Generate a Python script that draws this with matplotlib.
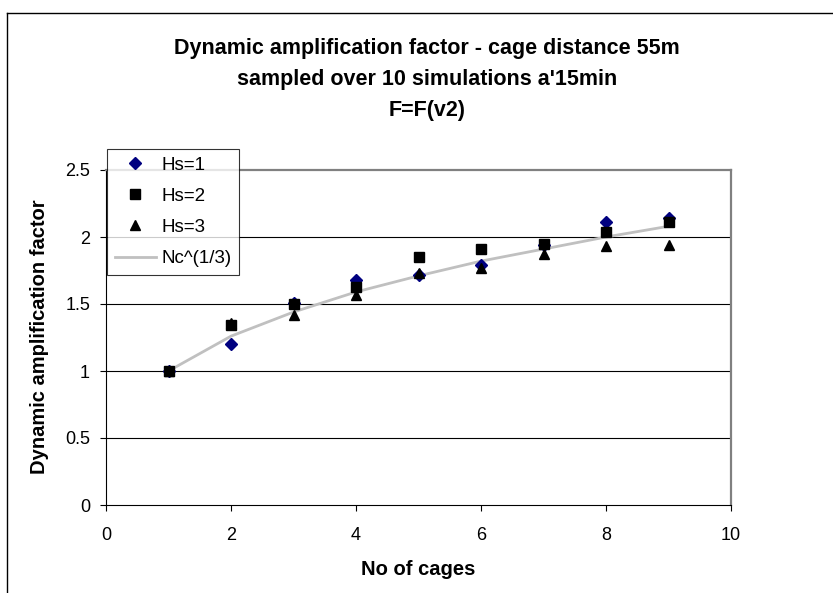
import matplotlib
matplotlib.use("Agg")
import matplotlib.pyplot as plt
from matplotlib.lines import Line2D

plt.rcParams["font.family"] = ["Liberation Sans", "DejaVu Sans"]

# number of cages
cages = [1, 2, 3, 4, 5, 6, 7, 8, 9]

# dynamic amplification factor per wave height
hs1 = [1.00, 1.20, 1.51, 1.68, 1.72, 1.79, 1.94, 2.11, 2.14]
hs2 = [1.00, 1.34, 1.50, 1.63, 1.85, 1.91, 1.95, 2.04, 2.11]
hs3 = [1.00, 1.36, 1.42, 1.57, 1.73, 1.77, 1.87, 1.93, 1.94]

# reference curve Nc^(1/3)
nc_curve = [1.00, 1.26, 1.44, 1.59, 1.71, 1.82, 1.91, 2.00, 2.08]

title_lines = [
    "Dynamic amplification factor - cage distance 55m",
    "sampled over 10 simulations a'15min",
    "F=F(v2)",
]

W, H = 833, 593
fig = plt.figure(figsize=(W / 100, H / 100), dpi=100)

# axes box in pixels: left 106, right 731, top 170, bottom 505
ax = fig.add_axes([106 / W, 1 - 505 / H, (731 - 106) / W, (505 - 170) / H])

# outer chart frame (only top and left visible in the crop)
fig.add_artist(Line2D([7 / W, 1], [1 - 12.5 / H, 1 - 12.5 / H], color="black", lw=1.0))
fig.add_artist(Line2D([7 / W, 7 / W], [0, 1 - 12.5 / H], color="black", lw=1.0))

line, = ax.plot(cages, nc_curve, color="#c0c0c0", lw=2.0, zorder=2, label="Nc^(1/3)")
p1, = ax.plot(cages, hs1, "D", color="#000080", ms=6.0, ls="none", zorder=3, label="Hs=1")
p2, = ax.plot(cages, hs2, "s", color="black", ms=6.5, ls="none", zorder=4, label="Hs=2")
p3, = ax.plot(cages, hs3, "^", color="black", ms=7.5, ls="none", zorder=5, label="Hs=3")

ax.set_xlim(0, 10)
ax.set_ylim(0, 2.5)
ax.set_xticks([0, 2, 4, 6, 8, 10])
ax.set_yticks([0, 0.5, 1, 1.5, 2, 2.5])
ax.set_yticklabels(["0", "0.5", "1", "1.5", "2", "2.5"])

for yv in [0.5, 1.0, 1.5, 2.0]:
    ax.axhline(yv, color="black", lw=0.8, zorder=1)

for side in ["top", "right"]:
    ax.spines[side].set_color("#808080")
    ax.spines[side].set_linewidth(1.6)
for side in ["left", "bottom"]:
    ax.spines[side].set_color("black")
    ax.spines[side].set_linewidth(0.8)

ax.tick_params(direction="out", length=4.5, width=0.8, labelsize=13, color="black")
ax.tick_params(axis="y", pad=7)
ax.tick_params(axis="x", pad=11)

ax.set_xlabel("No of cages", fontsize=14.5, fontweight="bold", labelpad=12)
fig.text(40 / W, 1 - 337 / H, "Dynamic amplification factor", rotation=90,
         fontsize=14.5, fontweight="bold", ha="center", va="center")

for text, base in zip(title_lines, [54, 85, 116]):
    fig.text(427 / W, 1 - base / H, text, fontsize=15.5, fontweight="bold",
             ha="center", va="baseline")

leg = fig.legend(
    handles=[p1, p2, p3, line],
    loc="upper left",
    bbox_to_anchor=(107 / W, 1 - 149 / H),
    borderaxespad=0,
    fontsize=13.5,
    frameon=True,
    fancybox=False,
    edgecolor="black",
    handlelength=2.2,
    handletextpad=0.3,
    borderpad=0.4,
    labelspacing=0.75,
    numpoints=1,
)
leg.get_frame().set_linewidth(0.8)

fig.savefig("out.png", dpi=100)
